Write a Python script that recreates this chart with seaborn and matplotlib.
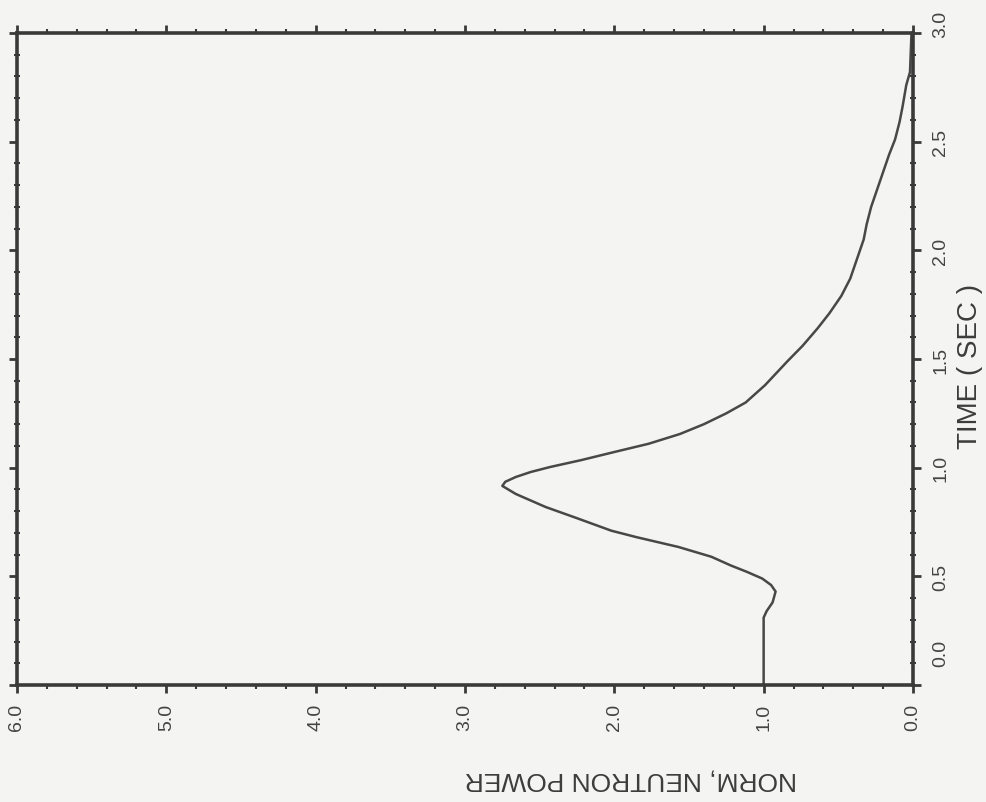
import matplotlib
matplotlib.use("Agg")
import matplotlib.pyplot as plt
import matplotlib.transforms as mtransforms
from matplotlib.ticker import MultipleLocator
import seaborn as sns
import pandas as pd

# ---- data (time in s, normalised neutron power) ----
time_s = [0.00, 0.31, 0.34, 0.38, 0.43, 0.46, 0.49, 0.52, 0.55, 0.59, 0.635,
          0.68, 0.71, 0.77, 0.819, 0.879, 0.916, 0.935, 0.957, 0.98, 1.003,
          1.035, 1.072, 1.11, 1.155, 1.20, 1.25, 1.30, 1.38, 1.49, 1.56, 1.64,
          1.71, 1.79, 1.87, 1.95, 2.05, 2.12, 2.20, 2.28, 2.36, 2.44, 2.51,
          2.59, 2.66, 2.76, 2.82, 3.00]
power = [1.00, 1.00, 0.98, 0.94, 0.92, 0.95, 1.01, 1.11, 1.22, 1.35, 1.57,
         1.85, 2.02, 2.26, 2.46, 2.66, 2.75, 2.73, 2.66, 2.56, 2.43,
         2.22, 2.00, 1.77, 1.56, 1.40, 1.25, 1.12, 0.99, 0.84, 0.74, 0.64,
         0.56, 0.48, 0.42, 0.38, 0.33, 0.31, 0.28, 0.24, 0.20, 0.16, 0.12,
         0.09, 0.07, 0.045, 0.02, 0.01]

power_ticks = [0, 1, 2, 3, 4, 5, 6]
power_tick_labels = ["0.0", "1.0", "2.0", "3.0", "4.0", "5.0", "6.0"]
time_ticks = [0.0, 0.5, 1.0, 1.5, 2.0, 2.5, 3.0]
time_tick_labels = ["0.0", "0.5", "1.0", "1.5", "2.0", "2.5", "3.0"]

x_label = "NORM, NEUTRON POWER"
y_label = "TIME ( SEC )"

df = pd.DataFrame({"time": time_s, "power": power})

# ---- style ----
bg = "#f4f4f2"
ink = "#3a3a3a"
sns.set_theme(style="white")
plt.rcParams["font.family"] = ["Liberation Sans", "DejaVu Sans"]

fig = plt.figure(figsize=(9.87, 8.03), dpi=100, facecolor=bg)
ax = fig.add_axes([0.0172, 0.1457, 0.9078, 0.8120])
ax.set_facecolor(bg)

sns.lineplot(data=df, x="power", y="time", sort=False, estimator=None,
             ax=ax, color="#484848", linewidth=1.8)

ax.set_xlim(6, 0)
ax.set_ylim(0, 3)
ax.grid(False)

ax.yaxis.tick_right()
ax.yaxis.set_label_position("right")

ax.set_xticks(power_ticks)
ax.set_xticklabels(power_tick_labels, rotation=90, color="#444444")
ax.set_yticks(time_ticks)
ax.set_yticklabels(time_tick_labels, rotation=90, va="center", color="#444444")
ax.xaxis.set_minor_locator(MultipleLocator(0.2))
ax.yaxis.set_minor_locator(MultipleLocator(0.1))

ax.tick_params(axis="x", which="major", bottom=True, top=True, direction="out",
               length=6, width=2, pad=7, labelsize=14, color=ink)
ax.tick_params(axis="x", which="minor", bottom=True, top=True, direction="out",
               length=3, width=1.5, color=ink)
ax.tick_params(axis="y", which="major", left=True, right=True, direction="out",
               length=6, width=2, pad=8, labelsize=14, color=ink)
ax.tick_params(axis="y", which="minor", left=True, right=True, direction="inout",
               length=5, width=1.5, color=ink)

for s in ax.spines.values():
    s.set_visible(True)
    s.set_linewidth(2.6)
    s.set_color(ink)

ax.set_xlabel(x_label, fontsize=19, rotation=180, va="center", ha="center",
              color="#3c3c3c")
ax.xaxis.set_label_coords(0.685, -0.143)
ax.set_ylabel(y_label, fontsize=20, rotation=90, va="center", ha="center",
              color="#3c3c3c")
ax.yaxis.set_label_coords(1.064, 0.49)

# the scanned plot's end labels on the time axis sit a bit higher than their ticks
ylabels = ax.get_yticklabels()
ylabels[0].set_transform(ylabels[0].get_transform() +
                         mtransforms.ScaledTranslation(0, 0.33, fig.dpi_scale_trans))
ylabels[-1].set_transform(ylabels[-1].get_transform() +
                          mtransforms.ScaledTranslation(0, 0.10, fig.dpi_scale_trans))

fig.savefig("out.png", dpi=100, facecolor=bg)
